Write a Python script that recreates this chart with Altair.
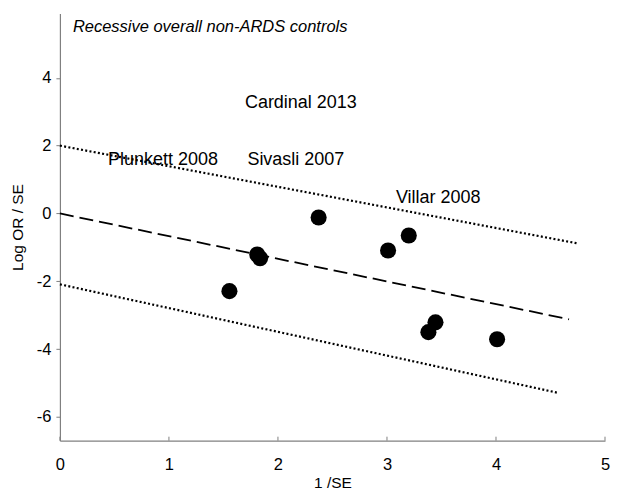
import altair as alt
import pandas as pd

# study points (1/SE, logOR/SE)
pt_x = [1.555, 1.81, 1.836, 2.373, 3.01, 3.20, 3.38, 3.445, 4.01]
pt_y = [-2.29, -1.21, -1.32, -0.12, -1.09, -0.65, -3.50, -3.21, -3.71]

# regression line and its +/-2 bands (start and end points)
mid_x = [0.0, 4.67]
mid_y = [0.0, -3.12]
up_x = [0.0, 4.745]
up_y = [2.0, -0.88]
lo_x = [0.0, 4.57]
lo_y = [-2.09, -5.29]

# study labels
lab_text = ["Cardinal 2013", "Plunkett 2008", "Sivasli 2007", "Villar 2008"]
lab_x = [2.21, 0.945, 2.164, 3.47]
lab_y = [3.26, 1.59, 1.59, 0.47]

x_ticks = [0, 1, 2, 3, 4, 5]
y_ticks = [-6, -4, -2, 0, 2, 4]
x_dom = [0, 5]
y_dom = [-6.7, 5.9]

FONT = "Liberation Sans"

pts = pd.DataFrame({"x": pt_x, "y": pt_y})
mid = pd.DataFrame({"x": mid_x, "y": mid_y})
up = pd.DataFrame({"x": up_x, "y": up_y})
lo = pd.DataFrame({"x": lo_x, "y": lo_y})
labs = pd.DataFrame({"t": lab_text, "x": lab_x, "y": lab_y})
xt = pd.DataFrame({"x": x_ticks})

xs = alt.Scale(domain=x_dom, nice=False, zero=False)
ys = alt.Scale(domain=y_dom, nice=False, zero=False)

xaxis = alt.Axis(values=x_ticks, grid=False, ticks=False, tickSize=0, labelPadding=16,
                 labelExpr="'' + datum.value", labelFlush=False,
                 domainColor="#808080", domainWidth=1.2, labelFont=FONT, labelFontSize=16.5,
                 labelColor="black", title="1 /SE", titleFont=FONT, titleFontSize=15.5,
                 titleFontWeight="normal", titleColor="black", titlePadding=2)
yaxis = alt.Axis(values=y_ticks, grid=False, tickSize=4, tickColor="#808080", labelPadding=5,
                 labelExpr="'' + datum.value", labelFlush=False,
                 domainColor="#808080", domainWidth=1.2, labelFont=FONT, labelFontSize=16.5,
                 labelColor="black", title="Log OR / SE", titleFont=FONT, titleFontSize=15.5,
                 titleFontWeight="normal", titleColor="black", titlePadding=11)

base_pts = alt.Chart(pts).mark_circle(size=260, color="black", opacity=1).encode(
    x=alt.X("x:Q", scale=xs, axis=xaxis),
    y=alt.Y("y:Q", scale=ys, axis=yaxis),
)

def line(df, dash, width):
    return alt.Chart(df).mark_line(color="black", strokeDash=dash, strokeWidth=width).encode(
        x=alt.X("x:Q", scale=xs), y=alt.Y("y:Q", scale=ys))

l_mid = line(mid, [14, 6], 1.8)
l_up = line(up, [2, 2.3], 2.2)
l_lo = line(lo, [2, 2.3], 2.2)

texts = alt.Chart(labs).mark_text(font=FONT, fontSize=18, color="black", align="center",
                                  baseline="middle").encode(
    x=alt.X("x:Q", scale=xs), y=alt.Y("y:Q", scale=ys), text="t:N")

ticks = alt.Chart(xt).mark_rule(color="#808080", strokeWidth=1).encode(
    x=alt.X("x:Q", scale=xs), y=alt.value(428), y2=alt.value(424))

title = alt.Chart(pd.DataFrame({"t": ["Recessive overall non-ARDS controls"]})).mark_text(
    font=FONT, fontSize=16.5, fontStyle="italic", color="black", align="left", baseline="middle"
).encode(x=alt.value(13), y=alt.value(14), text="t:N")

chart = alt.layer(l_up, l_lo, l_mid, base_pts, texts, ticks, title).properties(
    width=546, height=428,
    autosize=alt.AutoSizeParams(type="none"),
    padding={"left": 52, "top": 5, "right": 6, "bottom": 55},
).configure_view(stroke=None)

chart.save("out.html", embed_options={"renderer": "svg", "actions": False})
